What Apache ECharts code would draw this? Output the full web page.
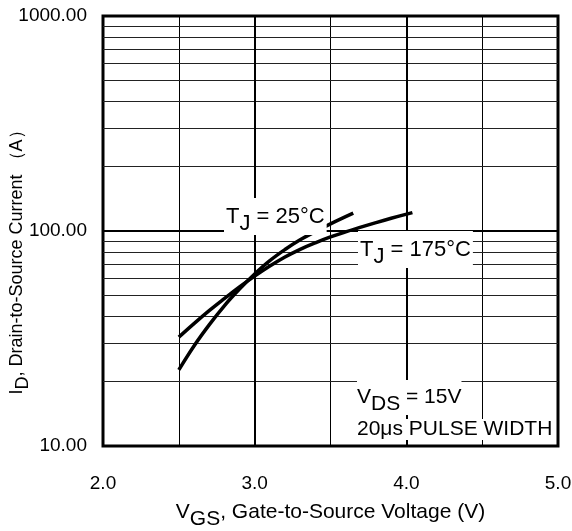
<!DOCTYPE html>
<html>
<head>
<meta charset="utf-8">
<script src="https://cdn.jsdelivr.net/npm/echarts@6/dist/echarts.min.js"></script>
<style>
  html, body { margin: 0; padding: 0; background: #fff; }
  #chart { width: 572px; height: 531px; }
</style>
</head>
<body>
<div id="chart"></div>
<script>
// curve data
const vgs25 = [2.5, 2.6, 2.7, 2.8, 2.9, 3.0, 3.1, 3.2, 3.3, 3.4, 3.5, 3.65]
const id25 = [22.6, 29.2, 36.6, 44.9, 53.7, 63.1, 72.8, 82.0, 91.0, 99.3, 107.9, 121]
const vgs175 = [2.5, 2.6, 2.7, 2.8, 2.9, 3.0, 3.1, 3.2, 3.3, 3.4, 3.5, 3.6, 3.7, 3.8, 3.9, 4.04]
const id175 = [32.1, 37.1, 42.6, 48.5, 55.0, 61.7, 68.7, 75.7, 82.2, 88.1, 93.8, 99.1, 104.2, 109.4, 114.6, 121.8]

// grid lines
const majorV = [3, 4]
const majorH = [100]
const minorH = [20, 30, 40, 50, 60, 70, 80, 90, 200, 300, 400, 500, 600, 700, 800, 900]

const FONT = 'Liberation Sans, Arial, Helvetica, sans-serif'

const toPairs = (xs, ys) => xs.map((x, i) => [x, ys[i]])

const gridMarks = [
  ...minorH.map(v => ({ yAxis: v, lineStyle: { width: 1, color: '#222', type: 'solid' } })),
  ...majorH.map(v => ({ yAxis: v, lineStyle: { width: 2, color: '#000', type: 'solid' } })),
  ...majorV.map(v => ({ xAxis: v, lineStyle: { width: 2, color: '#000', type: 'solid' } }))
]

const subRich = (size, drop) => ({
  a: { fontFamily: FONT, fontSize: size, fill: '#000' },
  s: { fontFamily: FONT, fontSize: size, fill: '#000', padding: [drop, 0, 0, 0] }
})

const chart = echarts.init(document.getElementById('chart'))

const option = {
  animation: false,
  backgroundColor: '#fff',
  grid: {
    left: 103,
    right: 14,
    top: 16,
    bottom: 85,
    containLabel: false,
    outerBoundsMode: 'none',
    show: true,
    borderColor: '#000',
    borderWidth: 3
  },
  xAxis: {
    type: 'value',
    min: 2,
    max: 5,
    interval: 0.5,
    axisLine: { show: false },
    axisTick: { show: false },
    splitLine: { show: true, lineStyle: { color: '#000', width: 1 } },
    axisLabel: {
      color: '#000',
      fontFamily: FONT,
      fontSize: 19,
      margin: 28,
      formatter: v => (Number.isInteger(v) ? v.toFixed(1) : '')
    },
    name: '{a|V}{s|GS}{a|, Gate-to-Source Voltage (V)}',
    nameLocation: 'middle',
    nameGap: 49,
    nameTextStyle: {
      rich: {
        a: { fontFamily: FONT, fontSize: 21, color: '#000' },
        s: { fontFamily: FONT, fontSize: 21, color: '#000', padding: [14, 0, 0, 0] }
      }
    }
  },
  yAxis: {
    type: 'log',
    logBase: 10,
    min: 10,
    max: 1000,
    axisLine: { show: false },
    axisTick: { show: false },
    splitLine: { show: true, lineStyle: { color: '#000', width: 2 } },
    axisLabel: {
      color: '#000',
      fontFamily: FONT,
      fontSize: 19,
      margin: 16,
      formatter: v => v.toFixed(2)
    }
  },
  series: [
    {
      name: 'TJ = 25°C',
      type: 'line',
      data: toPairs(vgs25, id25),
      smooth: 0.4,
      showSymbol: false,
      lineStyle: { color: '#000', width: 3.5 },
      z: 5,
      markLine: {
        silent: true,
        symbol: ['none', 'none'],
        label: { show: false },
        animation: false,
        data: gridMarks
      }
    },
    {
      name: 'TJ = 175°C',
      type: 'line',
      data: toPairs(vgs175, id175),
      smooth: 0.4,
      showSymbol: false,
      lineStyle: { color: '#000', width: 3.5 },
      z: 5
    }
  ],
  graphic: [
    {
      // y axis title, rotated
      type: 'text',
      x: 17,
      y: 258,
      rotation: Math.PI / 2,
      z: 100,
      style: {
        text: '{a|I}{s|D}{a|, Drain-to-Source Current （A）}',
        align: 'center',
        verticalAlign: 'middle',
        rich: subRich(18, 12)
      }
    },
    {
      type: 'text',
      left: 224,
      top: 198,
      z: 100,
      style: {
        text: '{a|T}{s|J}{a| = 25°C}',
        backgroundColor: '#fff',
        padding: [0, 2, 0, 2],
        rich: subRich(22, 15)
      }
    },
    {
      type: 'text',
      left: 358,
      top: 231,
      z: 100,
      style: {
        text: '{a|T}{s|J}{a| = 175°C}',
        backgroundColor: '#fff',
        padding: [0, 2, 0, 2],
        rich: subRich(22, 15)
      }
    },
    {
      type: 'text',
      left: 357,
      top: 380,
      z: 100,
      style: {
        text: '{a|V}{s|DS}{a| = 15V}',
        backgroundColor: '#fff',
        rich: subRich(21, 14)
      }
    },
    {
      type: 'text',
      left: 357,
      top: 419,
      z: 100,
      style: {
        text: '20μs PULSE WIDTH',
        fontFamily: FONT,
        fontSize: 21,
        fill: '#000',
        backgroundColor: '#fff'
      }
    }
  ]
}

chart.setOption(option)
</script>
</body>
</html>
